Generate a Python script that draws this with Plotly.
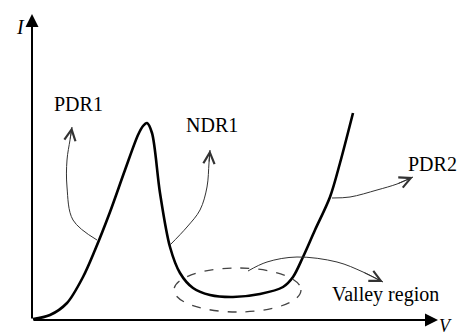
import plotly.graph_objects as go

# I-V characteristic (arbitrary units)
voltage = [1, 18, 35, 51, 63, 78, 93, 106, 111, 115, 120, 128, 138, 148, 161,
           178, 201, 228, 251, 261, 271, 283, 298, 308, 321]
current = [1, 5, 17, 43, 70, 108, 150, 185, 194, 197, 187, 127, 73, 47, 32,
           25, 23, 26, 33, 43, 63, 90, 123, 157, 207]

# Callout paths: (V, I) from the curve to the label
pdr1_path_v = [65, 41, 35, 35, 38, 40]
pdr1_path_i = [80, 100, 133, 160, 180, 193]
ndr1_path_v = [138, 155, 168, 175, 177, 178]
ndr1_path_i = [75, 93, 110, 133, 157, 170]
pdr2_path_v = [300, 318, 345, 365, 381]
pdr2_path_i = [122, 123, 130, 136, 143]
valley_path_v = [216, 235, 265, 305, 331, 351]
valley_path_i = [49, 58, 63, 58, 48, 38]

region_labels = ["PDR1", "NDR1", "PDR2", "Valley region"]
label_v = [46, 180, 400, 353]
label_i = [216, 195, 156, 26]

# Valley region outline (V and I extents)
valley_v = [142, 269]
valley_i = [8, 52]

axis_v_end = 406
axis_i_end = 306

serif = "Liberation Serif, Times New Roman, serif"

fig = go.Figure()

fig.add_trace(go.Scatter(
    x=voltage, y=current, mode="lines",
    line=dict(color="black", width=2.6, shape="spline", smoothing=0.9),
    hoverinfo="skip", showlegend=False))

annotations = []
for pv, pi in [(pdr1_path_v, pdr1_path_i), (ndr1_path_v, ndr1_path_i),
               (pdr2_path_v, pdr2_path_i), (valley_path_v, valley_path_i)]:
    fig.add_trace(go.Scatter(
        x=pv, y=pi, mode="lines",
        line=dict(color="#333333", width=1, shape="spline", smoothing=1.0),
        hoverinfo="skip", showlegend=False))
    annotations.append(dict(
        x=pv[-1], y=pi[-1], ax=pv[-2], ay=pi[-2],
        xref="x", yref="y", axref="x", ayref="y",
        showarrow=True, arrowhead=5, arrowsize=2.2, arrowwidth=1,
        arrowcolor="#333333", text=""))

# Axes drawn as arrows
annotations.append(dict(x=0, y=axis_i_end, ax=0, ay=0,
                        xref="x", yref="y", axref="x", ayref="y",
                        showarrow=True, arrowhead=2, arrowsize=1.3,
                        arrowwidth=2, arrowcolor="black", text=""))
annotations.append(dict(x=axis_v_end, y=0, ax=0, ay=0,
                        xref="x", yref="y", axref="x", ayref="y",
                        showarrow=True, arrowhead=2, arrowsize=1.3,
                        arrowwidth=2, arrowcolor="black", text=""))
annotations.append(dict(x=-12, y=293, text="I", showarrow=False,
                        font=dict(family=serif, size=20, color="black", style="italic")))
annotations.append(dict(x=413, y=-6, text="V", showarrow=False,
                        font=dict(family=serif, size=18, color="black", style="italic")))

for t, lv, li in zip(region_labels, label_v, label_i):
    annotations.append(dict(x=lv, y=li, text=t, showarrow=False,
                            font=dict(family=serif, size=20, color="black")))

fig.add_shape(type="circle", xref="x", yref="y",
              x0=valley_v[0], x1=valley_v[1], y0=valley_i[0], y1=valley_i[1],
              line=dict(color="#444444", width=1.3, dash="dash"))

fig.update_layout(
    width=463, height=336,
    margin=dict(l=0, r=0, t=0, b=0),
    paper_bgcolor="white", plot_bgcolor="white",
    xaxis=dict(range=[-32, 431], visible=False, fixedrange=True),
    yaxis=dict(range=[-16, 320], visible=False, fixedrange=True),
    annotations=annotations,
    showlegend=False,
)

fig.write_html("out.html")
